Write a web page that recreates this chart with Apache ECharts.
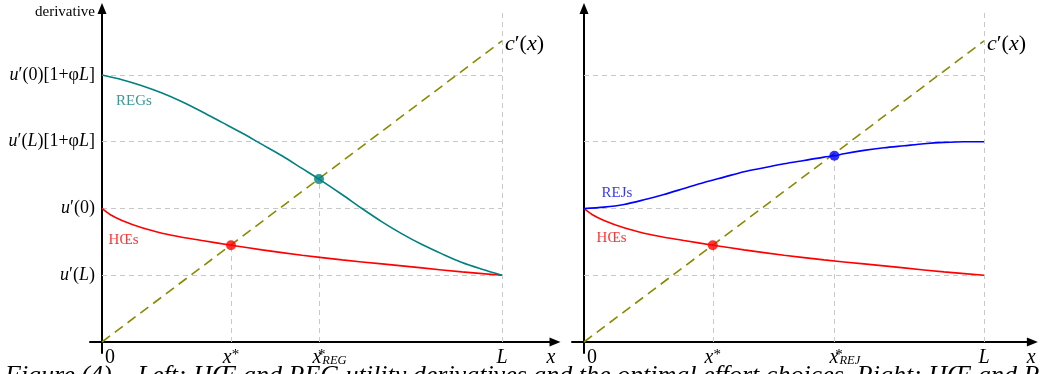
<!DOCTYPE html>
<html>
<head>
<meta charset="utf-8">
<script src="https://cdn.jsdelivr.net/npm/echarts@6/dist/echarts.min.js"></script>
<style>
html,body{margin:0;padding:0;background:#fff;}
#chart{width:1040px;height:374px;}
</style>
</head>
<body>
<div id="chart"></div>
<script>
// ---------- data ----------
const hoeX = [0, 0.02, 0.05, 0.1, 0.15, 0.2, 0.25, 0.3225, 0.4, 0.5, 0.6, 0.7, 0.8, 0.9, 1.0];
const hoeY = [2.0, 1.91, 1.82, 1.71, 1.63, 1.57, 1.52, 1.45, 1.38, 1.30, 1.23, 1.17, 1.11, 1.05, 1.0];

const regX = [0, 0.05, 0.1, 0.15, 0.2, 0.25, 0.3, 0.35, 0.4, 0.45, 0.5, 0.5425, 0.6, 0.65, 0.7, 0.75, 0.8, 0.85, 0.9, 0.95, 1.0];
const regY = [4.00, 3.93, 3.84, 3.73, 3.60, 3.45, 3.29, 3.13, 2.96, 2.79, 2.60, 2.44, 2.21, 2.00, 1.80, 1.62, 1.46, 1.32, 1.19, 1.09, 1.0];

const rejX = [0, 0.05, 0.1, 0.15, 0.2, 0.25, 0.3, 0.35, 0.4, 0.45, 0.5, 0.55, 0.6, 0.626, 0.65, 0.7, 0.75, 0.8, 0.85, 0.9, 0.95, 1.0];
const rejY = [2.00, 2.02, 2.06, 2.13, 2.21, 2.30, 2.39, 2.47, 2.55, 2.61, 2.67, 2.72, 2.77, 2.79, 2.82, 2.87, 2.91, 2.94, 2.97, 2.99, 3.00, 3.00];

const costX = [0, 1];
const costY = [0, 4.51];

const eqLeftX = [0.3225, 0.5425];
const eqLeftY = [1.45, 2.44];
const eqRightX = [0.322, 0.626];
const eqRightY = [1.45, 2.79];

const yLevels = [1, 2, 3, 4];
const gridTopL = 4.98;

const yTickVals = [1, 2, 3, 4, 4.94];
const yTickTexts = ['{i|u}′({i|L})', '{i|u}′(0)', '{i|u}′({i|L})[1+φ{i|L}]', '{i|u}′(0)[1+φ{i|L}]', '{d|derivative}'];

const xTickValsL = [0, 0.3225, 0.5425, 1, 1.1225];
const xTickTextsL = ['{z|0}', '{i|x}{st|*}', '{ix|x}{stz|*}{sub|REG}', '{i|L}', '{i|x}'];
const xTickValsR = [0, 0.322, 0.626, 1, 1.118];
const xTickTextsR = ['{z|0}', '{i|x}{st|*}', '{ix|x}{stz|*}{sub|REJ}', '{i|L}', '{i|x}'];

const annotLeft = [{name: 'REGs', pos: [0.08, 3.615], color: '#008080'}, {name: 'HŒs', pos: [0.054, 1.528], color: '#ff0000'}];
const annotRight = [{name: 'REJs', pos: [0.0825, 2.237], color: '#0000ff'}, {name: 'HŒs', pos: [0.069, 1.553], color: '#ff0000'}];

const caption = 'Figure (4) – Left: HŒ and REG utility derivatives and the optimal effort choices. Right: HŒ and REJ utility derivatives';

// ---------- helpers ----------
const FONT = 'Liberation Serif';
const zip = (xs, ys) => xs.map((x, i) => [x, ys[i]]);
const pick = (vals, texts) => (v) => {
  let best = 0, bd = Infinity;
  vals.forEach((t, i) => { const d = Math.abs(t - v); if (d < bd) { bd = d; best = i; } });
  return texts[best];
};
const richX = {
  i: {fontStyle: 'italic', fontFamily: FONT, fontSize: 20, color: '#000'},
  ix: {fontStyle: 'italic', fontFamily: FONT, fontSize: 20, color: '#000', padding: [0, 0, 0, 21]},
  z: {fontFamily: FONT, fontSize: 20, color: '#000', padding: [0, 0, 0, 16]},
  st: {fontFamily: FONT, fontSize: 15, color: '#000', verticalAlign: 'top'},
  stz: {fontFamily: FONT, fontSize: 15, color: '#000', width: 1, verticalAlign: 'top'},
  sub: {fontFamily: FONT, fontSize: 12.5, fontStyle: 'italic', color: '#000', verticalAlign: 'bottom'}
};
const richY = {
  i: {fontStyle: 'italic', fontFamily: FONT, fontSize: 18, color: '#000'},
  d: {fontFamily: FONT, fontSize: 15, color: '#000'}
};
const axisLineStyle = {color: '#000', width: 2};

function mkX(gi, max, vals, texts) {
  return {
    type: 'value', gridIndex: gi, min: -0.03, max: max,
    axisLine: {show: true, onZero: true, symbol: ['none', 'triangle'], symbolSize: [9, 11], lineStyle: axisLineStyle},
    axisTick: {show: false}, splitLine: {show: false},
    axisLabel: {show: true, customValues: vals, formatter: pick(vals, texts), margin: -5.5,
      fontFamily: FONT, fontSize: 20, color: '#000', verticalAlign: 'top', rich: richX}
  };
}
function mkY(gi, labels) {
  return {
    type: 'value', gridIndex: gi, min: -0.165, max: 4.996,
    axisLine: {show: true, onZero: true, symbol: ['none', 'triangle'], symbolSize: [9, 11], lineStyle: axisLineStyle},
    axisTick: {show: false}, splitLine: {show: false},
    axisLabel: labels ? {show: true, customValues: yTickVals, formatter: pick(yTickVals, yTickTexts), margin: -5,
      fontFamily: FONT, fontSize: 18, color: '#000', rich: richY} : {show: false}
  };
}
function gridLines(gi, vx, vy) {
  const coords = yLevels.map(l => ({coords: [[0, l], [1, l]]}));
  vx.forEach((x, i) => coords.push({coords: [[x, 0], [x, vy[i]]]}));
  coords.push({coords: [[1, 0], [1, gridTopL]]});
  return {type: 'lines', coordinateSystem: 'cartesian2d', xAxisIndex: gi, yAxisIndex: gi, z: 1, silent: true,
    lineStyle: {color: '#c8c8c8', width: 1, type: [5, 4], opacity: 1}, data: coords};
}
function curve(gi, xs, ys, color) {
  return {type: 'line', xAxisIndex: gi, yAxisIndex: gi, data: zip(xs, ys), smooth: 0.3, symbol: 'none', z: 3,
    lineStyle: {color: color, width: 1.6}};
}
function cost(gi) {
  return {type: 'line', xAxisIndex: gi, yAxisIndex: gi, data: zip(costX, costY), symbol: 'none', z: 2,
    lineStyle: {color: '#8a8a00', width: 1.6, type: [10, 6]},
    endLabel: {show: true, distance: 3, offset: [0, 3], formatter: '{i|c}′({i|x})',
      fontFamily: FONT, fontSize: 22, color: '#000',
      rich: {i: {fontStyle: 'italic', fontFamily: FONT, fontSize: 22, color: '#000'}}}};
}
function points(gi, xs, ys, colors) {
  return {type: 'scatter', xAxisIndex: gi, yAxisIndex: gi, symbolSize: 10, z: 5,
    data: xs.map((x, i) => ({value: [x, ys[i]], itemStyle: {color: colors[i]}}))};
}
function annots(gi, list) {
  return {type: 'scatter', xAxisIndex: gi, yAxisIndex: gi, symbolSize: 0, z: 6, silent: true,
    data: list.map(a => ({value: a.pos, name: a.name,
      label: {show: true, position: 'inside', formatter: a.name, color: a.color, fontFamily: FONT, fontSize: 15}}))};
}

const chart = echarts.init(document.getElementById('chart'), null, {renderer: 'canvas'});
chart.setOption({
  animation: false,
  backgroundColor: '#fff',
  title: {text: caption, left: 5, top: 363, padding: 0,
    textStyle: {fontFamily: FONT, fontSize: 26, fontStyle: 'italic', fontWeight: 'normal', color: '#000'}},
  grid: [
    {left: 90, top: 8.5, width: 465, height: 344.5, outerBoundsMode: 'none', containLabel: false},
    {left: 572, top: 8.5, width: 460.4, height: 344.5, outerBoundsMode: 'none', containLabel: false}
  ],
  xAxis: [mkX(0, 1.1325, xTickValsL, xTickTextsL), mkX(1, 1.121, xTickValsR, xTickTextsR)],
  yAxis: [mkY(0, true), mkY(1, false)],
  series: [
    gridLines(0, eqLeftX, eqLeftY),
    gridLines(1, eqRightX, eqRightY),
    cost(0), cost(1),
    curve(0, hoeX, hoeY, '#ff0000'),
    curve(0, regX, regY, '#008080'),
    curve(1, hoeX, hoeY, '#ff0000'),
    curve(1, rejX, rejY, '#0000ff'),
    points(0, eqLeftX, eqLeftY, ['#ff0000', '#008080']),
    points(1, eqRightX, eqRightY, ['#ff0000', '#0000ff']),
    annots(0, annotLeft), annots(1, annotRight)
  ]
});
</script>
</body>
</html>
